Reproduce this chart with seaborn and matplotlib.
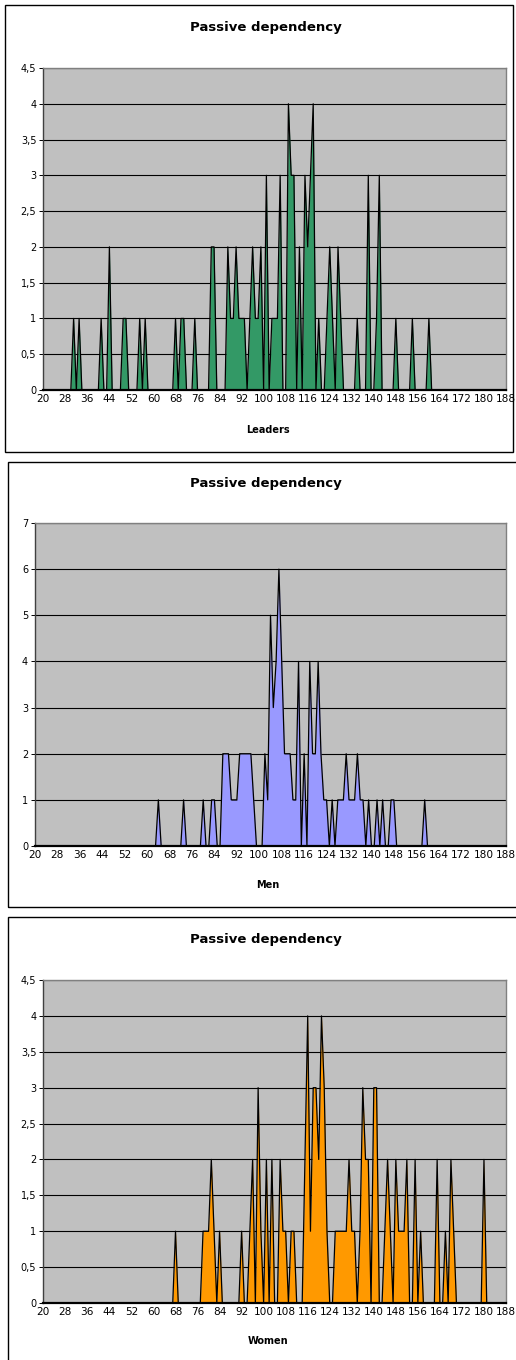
import numpy as np
import pandas as pd
import matplotlib
matplotlib.use("Agg")
import matplotlib.pyplot as plt
from matplotlib.patches import Rectangle
import seaborn as sns

# ---------------- data ----------------
scores = list(range(20, 189))
tick_labels = list(range(20, 189, 8))

leaders_scores = [31, 33, 41, 44, 49, 50, 55, 57, 68, 70, 71, 75, 81, 82, 87, 88, 89, 90, 91, 92, 93,
                  95, 96, 97, 98, 99, 101, 103, 104, 105, 106, 109, 110, 111, 113, 115, 116, 117, 118,
                  120, 123, 124, 125, 127, 128, 134, 138, 141, 142, 148, 154, 160]
leaders_counts = [1, 1, 1, 2, 1, 1, 1, 1, 1, 1, 1, 1, 2, 2, 2, 1, 1, 2, 1, 1, 1,
                  1, 2, 1, 1, 2, 3, 1, 1, 1, 3, 4, 3, 3, 2, 3, 2, 3, 4,
                  1, 1, 2, 1, 2, 1, 1, 3, 1, 3, 1, 1, 1]

men_scores = [64, 73, 80, 83, 84, 87, 88, 89, 90, 91, 92, 93, 94, 95, 96, 97, 98, 102, 103, 104, 105,
              106, 107, 108, 109, 110, 111, 112, 113, 114, 116, 118, 119, 120, 121, 122, 123, 124, 126,
              128, 129, 130, 131, 132, 133, 134, 135, 136, 137, 139, 142, 144, 147, 148, 159]
men_counts = [1, 1, 1, 1, 1, 2, 2, 2, 1, 1, 1, 2, 2, 2, 2, 2, 1, 2, 1, 5, 3,
              4, 6, 4, 2, 2, 2, 1, 1, 4, 2, 4, 2, 2, 4, 2, 1, 1, 1,
              1, 1, 1, 2, 1, 1, 1, 2, 1, 1, 1, 1, 1, 1, 1, 1]

women_scores = [68, 78, 79, 80, 81, 82, 84, 92, 95, 96, 98, 99, 101, 103, 106, 107, 108, 110, 111, 115,
                116, 117, 118, 119, 120, 121, 122, 123, 126, 127, 128, 129, 130, 131, 132, 133, 135,
                136, 137, 138, 140, 141, 144, 145, 146, 148, 149, 150, 151, 152, 155, 157, 163, 166,
                168, 169, 180]
women_counts = [1, 1, 1, 1, 2, 1, 1, 1, 1, 2, 3, 1, 2, 2, 2, 1, 1, 1, 1, 2,
                4, 1, 3, 3, 2, 4, 3, 1, 1, 1, 1, 1, 1, 2, 1, 1, 1,
                3, 2, 2, 3, 3, 1, 2, 1, 2, 1, 1, 1, 2, 2, 1, 2, 1,
                2, 1, 2]

chart_title = "Passive dependency"
group_names = ["Leaders", "Men", "Women"]


def full_series(sc, ct):
    s = pd.Series(0, index=scores, dtype=float)
    s.loc[sc] = ct
    return pd.DataFrame({"score": scores, "count": s.values})


frames = [full_series(leaders_scores, leaders_counts),
          full_series(men_scores, men_counts),
          full_series(women_scores, women_counts)]

# ---------------- layout / style ----------------
sns.set_style("white")
plt.rcParams["font.family"] = ["DejaVu Sans"]
plt.rcParams["text.color"] = "black"
plt.rcParams["xtick.color"] = "black"
plt.rcParams["ytick.color"] = "black"
plt.rcParams["xtick.labelcolor"] = "black"
plt.rcParams["ytick.labelcolor"] = "black"

W, H = 516, 1360
fig = plt.figure(figsize=(W / 100, H / 100), dpi=100)
fig.patch.set_facecolor("white")


def fx(x):
    return x / W


def fy(y):
    return 1 - y / H


specs = [
    dict(color="#339966", plot=(43.3, 68, 506, 390), ymax=4.5, ystep=0.5,
         box=(5, 5, 513, 452), title_y=27, xlabel_y=430),
    dict(color="#9999FF", plot=(35, 523, 506, 846), ymax=7, ystep=1,
         box=(8, 462, 540, 907), title_y=483, xlabel_y=885),
    dict(color="#FF9900", plot=(43.3, 980, 506, 1303), ymax=4.5, ystep=0.5,
         box=(8, 917, 540, 1390), title_y=939, xlabel_y=1341),
]

for df, name, sp in zip(frames, group_names, specs):
    # chart border box
    bx0, by0, bx1, by1 = sp["box"]
    fig.patches.append(Rectangle((fx(bx0), fy(by1)), fx(bx1 - bx0), (by1 - by0) / H,
                                 transform=fig.transFigure, fill=False,
                                 edgecolor="black", linewidth=1.0, zorder=0))
    x0, y0, x1, y1 = sp["plot"]
    ax = fig.add_axes([fx(x0), fy(y1), fx(x1 - x0), (y1 - y0) / H])
    ax.set_facecolor("#C0C0C0")
    ax.set_axisbelow(True)

    ax.fill_between(df["score"], 0, df["count"], color=sp["color"], linewidth=0, zorder=2)
    sns.lineplot(data=df, x="score", y="count", ax=ax, color="black", linewidth=0.9,
                 zorder=3, estimator=None)

    ax.set_xlim(scores[0], scores[-1])
    ax.set_ylim(0, sp["ymax"])
    yt = np.arange(0, sp["ymax"] + 1e-9, sp["ystep"])
    ax.set_yticks(yt)
    ax.set_yticklabels([f"{v:g}".replace(".", ",") for v in yt], fontsize=7)
    ax.yaxis.grid(True, color="black", linewidth=0.8)
    ax.xaxis.grid(False)

    ax.set_xticks(tick_labels)
    ax.set_xticklabels([str(t) for t in tick_labels], fontsize=7.6)
    ax.set_xticks(scores, minor=True)
    ax.tick_params(axis="x", which="major", direction="out", length=3, width=0.7,
                   color="black", pad=0)
    ax.tick_params(axis="x", which="minor", direction="out", length=2.5, width=0.6,
                   color="black")
    ax.tick_params(axis="y", which="major", direction="out", length=3, width=0.7,
                   color="black", pad=2, left=True)

    for s in ["top", "right"]:
        ax.spines[s].set_color("#808080")
        ax.spines[s].set_linewidth(1.0)
    ax.spines["left"].set_color("#404040")
    ax.spines["left"].set_linewidth(1.0)
    ax.spines["bottom"].set_color("black")
    ax.spines["bottom"].set_linewidth(1.6)
    ax.spines["bottom"].set_zorder(4)

    ax.set_xlabel("")
    ax.set_ylabel("")

    fig.text(fx(266), fy(sp["title_y"]), chart_title, ha="center", va="center",
             fontsize=9.5, fontweight="bold", color="black")
    fig.text(fx(268), fy(sp["xlabel_y"]), name, ha="center", va="center",
             fontsize=7, fontweight="bold", color="black")

fig.savefig("out.png", dpi=100, facecolor="white")
